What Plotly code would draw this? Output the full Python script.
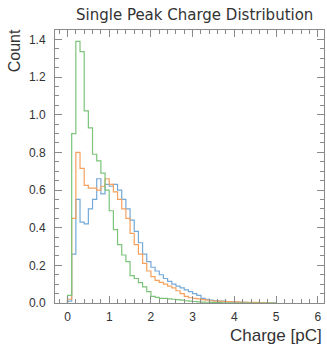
import numpy as np
import plotly.graph_objects as go

# bin width 0.1, left edges starting at 0.0
bin_width = 0.1

blue_counts = [0.01, 0.26, 0.55, 0.43, 0.42, 0.50, 0.55, 0.66, 0.58, 0.63,
               0.62, 0.63, 0.60, 0.55, 0.50, 0.44, 0.38, 0.32, 0.26, 0.22,
               0.19, 0.17, 0.15, 0.13, 0.115, 0.10, 0.09, 0.08, 0.07, 0.06,
               0.05, 0.04, 0.025, 0.02, 0.015, 0.012, 0.01, 0.01, 0.008, 0.006,
               0.005, 0.004, 0.003, 0.002, 0.002, 0.001, 0.0, 0.0, 0.0, 0.0]
orange_counts = [0.02, 0.45, 0.80, 0.715, 0.625, 0.61, 0.61, 0.60, 0.62, 0.66,
                 0.63, 0.59, 0.55, 0.50, 0.45, 0.37, 0.31, 0.26, 0.21, 0.17,
                 0.14, 0.12, 0.11, 0.10, 0.09, 0.08, 0.065, 0.05, 0.035, 0.028,
                 0.025, 0.022, 0.018, 0.015, 0.012, 0.01, 0.01, 0.008, 0.007, 0.006,
                 0.006, 0.005, 0.004, 0.004, 0.003, 0.003, 0.002, 0.001, 0.0, 0.0]
green_counts = [0.04, 0.90, 1.39, 1.335, 1.02, 0.93, 0.79, 0.755, 0.69, 0.60,
                0.49, 0.39, 0.31, 0.255, 0.22, 0.145, 0.13, 0.108, 0.086, 0.06,
                0.035, 0.03, 0.025, 0.025, 0.022, 0.02, 0.018, 0.015, 0.012, 0.01,
                0.008, 0.006, 0.005, 0.004, 0.003, 0.002, 0.002, 0.001, 0.001, 0.0,
                0.0, 0.0, 0.0, 0.0, 0.0, 0.0, 0.0, 0.0, 0.0, 0.0]

x_tick_vals = [0, 1, 2, 3, 4, 5, 6]
y_tick_vals = [0.0, 0.2, 0.4, 0.6, 0.8, 1.0, 1.2, 1.4]

title_text = "Single Peak Charge Distribution"
x_title = "Charge [pC]"
y_title = "Count"

series = [
    ("blue", blue_counts, "#74a9d8"),
    ("orange", orange_counts, "#f6a15e"),
    ("green", green_counts, "#7cc47a"),
]


def step_xy(counts):
    n = len(counts)
    edges = np.arange(n + 1) * bin_width
    xs = [edges[0]] + list(edges)
    ys = [0.0] + list(counts) + [0.0]
    return xs, ys


fig = go.Figure()
for name, counts, color in series:
    xs, ys = step_xy(counts)
    fig.add_trace(go.Scatter(x=xs, y=ys, mode="lines", line_shape="hv",
                             line=dict(color=color, width=1.2), name=name,
                             showlegend=False))

axis_color = "#8a8a8a"
tick_font = dict(family="Liberation Sans, Arial, sans-serif", size=12, color="#333333")

fig.update_xaxes(range=[-0.3, 6.15], tickvals=x_tick_vals, ticks="inside",
                 ticklen=7, tickcolor=axis_color, tickwidth=1, ticklabelstandoff=3,
                 minor=dict(dtick=0.2, ticks="inside", ticklen=4, tickcolor=axis_color),
                 showline=True, linecolor=axis_color, linewidth=1, mirror="ticks",
                 showgrid=False, zeroline=False, tickfont=tick_font)
fig.update_yaxes(range=[0, 1.45], tickvals=y_tick_vals, tickformat=".1f",
                 ticks="inside", ticklen=7, tickcolor=axis_color, tickwidth=1,
                 ticklabelstandoff=6,
                 minor=dict(dtick=0.05, ticks="inside", ticklen=4, tickcolor=axis_color),
                 showline=True, linecolor=axis_color, linewidth=1, mirror="ticks",
                 showgrid=False, zeroline=False, tickfont=tick_font)

fig.update_layout(
    width=327, height=344,
    margin=dict(l=55, r=3, t=30, b=41),
    paper_bgcolor="white", plot_bgcolor="white",
    annotations=[
        dict(text=title_text, x=0.52, y=1.0, xref="paper", yref="paper",
             xanchor="center", yanchor="bottom", yshift=4, showarrow=False,
             font=dict(family="DejaVu Sans, sans-serif", size=15, color="#333333")),
        dict(text=x_title, x=1.0, y=0, xref="paper", yref="paper",
             xanchor="right", yanchor="top", yshift=-21, showarrow=False,
             font=dict(family="Liberation Sans, Arial, sans-serif", size=17, color="#333333")),
        dict(text=y_title, x=0, y=1.01, xref="paper", yref="paper",
             xanchor="right", yanchor="top", xshift=-30, textangle=-90,
             showarrow=False,
             font=dict(family="Liberation Sans, Arial, sans-serif", size=16, color="#333333")),
    ],
)

fig.write_html("out.html")
